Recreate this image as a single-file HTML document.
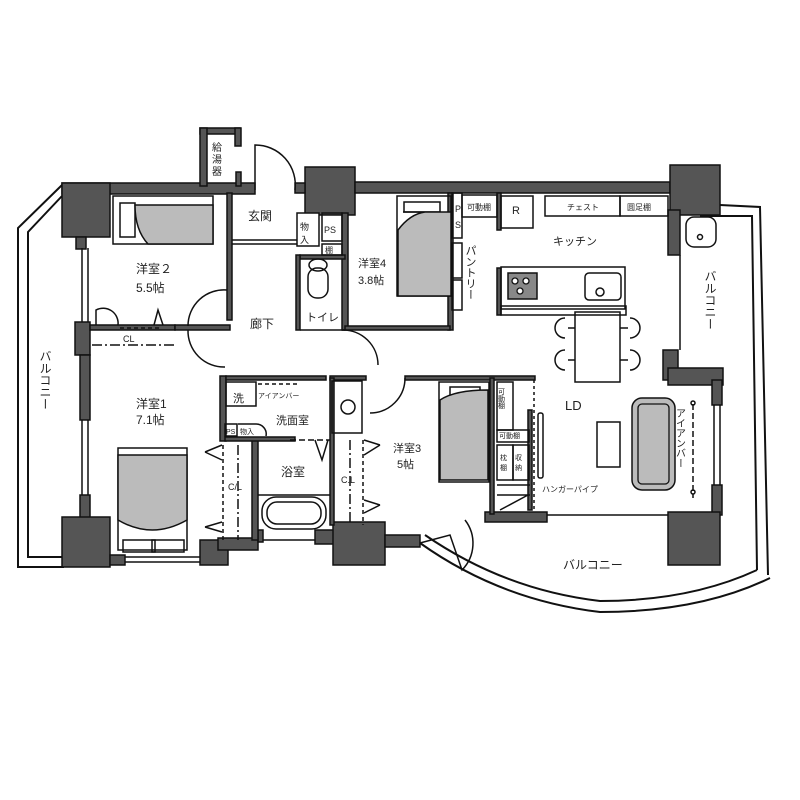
<!DOCTYPE html>
<html><head><meta charset="utf-8"><style>
html,body{margin:0;padding:0;background:#fff;width:800px;height:800px;overflow:hidden}
svg{display:block}
text{font-family:"Liberation Sans","Noto Sans CJK JP",sans-serif;fill:#222}
</style></head><body>
<svg width="800" height="800" viewBox="0 0 800 800" xmlns="http://www.w3.org/2000/svg">
<g fill="none" stroke="#111" stroke-width="2">
<!-- left balcony -->
<path d="M62,185 L18,228 L18,567 L64,567"/>
<path d="M62,196 L28,232 L28,557 L64,557"/>
<!-- right balcony -->
<path d="M720,205 L760,207 L768,575"/>
<path d="M700,216 L752,216 L757,570"/>
<!-- curved bottom balcony -->
<path d="M420,543 Q500,600 600,612 Q700,612 770,578"/>
<path d="M425,535 Q505,590 600,601 Q690,601 757,570"/>
</g>
<!-- walls -->
<g fill="#555" stroke="#111" stroke-width="1.5">
<rect x="62" y="183" width="193" height="11"/>
<rect x="62" y="183" width="48" height="54"/>
<rect x="76" y="237" width="10" height="12"/>
<rect x="200" y="128" width="40" height="6"/>
<rect x="200" y="128" width="7" height="58"/>
<rect x="235" y="128" width="6" height="18"/>
<rect x="236" y="172" width="5" height="14"/>
<rect x="305" y="167" width="50" height="48"/>
<rect x="295" y="183" width="10" height="10"/>
<rect x="355" y="182" width="315" height="11"/>
<rect x="670" y="165" width="50" height="50"/>
<rect x="668" y="210" width="12" height="45"/>
<rect x="75" y="322" width="15" height="33"/>
<rect x="80" y="355" width="10" height="65"/>
<rect x="80" y="495" width="10" height="24"/>
<rect x="62" y="517" width="48" height="50"/>
<rect x="110" y="555" width="15" height="10"/>
<rect x="200" y="540" width="28" height="25"/>
<rect x="218" y="538" width="40" height="12"/>
<rect x="258" y="530" width="5" height="12"/>
<rect x="315" y="530" width="20" height="14"/>
<rect x="333" y="522" width="52" height="43"/>
<rect x="385" y="535" width="35" height="12"/>
<rect x="485" y="512" width="62" height="10"/>
<rect x="663" y="350" width="15" height="30"/>
<rect x="668" y="368" width="55" height="17"/>
<rect x="712" y="380" width="10" height="25"/>
<rect x="712" y="485" width="10" height="30"/>
<rect x="668" y="512" width="52" height="53"/>
<!-- interior thick-ish walls -->
<rect x="227" y="193" width="5" height="127"/>
<rect x="90" y="325" width="85" height="5"/>
<rect x="175" y="325" width="55" height="5"/>
<rect x="342" y="213" width="6" height="117"/>
<rect x="448" y="193" width="5" height="137"/>
<rect x="345" y="326" width="105" height="4"/>
<rect x="220" y="376" width="6" height="65"/>
<rect x="226" y="376" width="100" height="4"/>
<rect x="330" y="376" width="36" height="4"/>
<rect x="330" y="378" width="4" height="147"/>
<rect x="252" y="438" width="6" height="102"/>
<rect x="225" y="437" width="70" height="4"/>
<rect x="405" y="376" width="130" height="4"/>
<rect x="490" y="378" width="4" height="136"/>
<rect x="497" y="193" width="4" height="37"/>
<rect x="497" y="268" width="4" height="47"/>
<rect x="300" y="255" width="45" height="4"/>
<rect x="296" y="255" width="4" height="75"/>
<rect x="528" y="410" width="4" height="100"/>
</g>
<g fill="none" stroke="#111" stroke-width="1.5">
<!-- windows -->
<path d="M82,248 V322 M88,248 V322"/>
<path d="M82,420 V495 M88,420 V495"/>
<path d="M125,557 H200 M125,562 H200"/>
<path d="M263,540 H315"/>
<path d="M547,515 H668"/>
<path d="M680,255 V350"/>
<path d="M714,405 V485 M720,405 V485"/>
<!-- genkan -->
<path d="M232,240 H297 M232,244 H297"/>
<path d="M255,190 V145 A40,40 0 0,1 295,190"/>
<!-- boxes -->
<rect x="297" y="213" width="22" height="33" fill="#fff"/>
<rect x="322" y="213" width="20" height="28"/>
<rect x="322" y="244" width="20" height="11"/>
<ellipse cx="318" cy="265" rx="9" ry="6"/>
<rect x="308" y="268" width="20" height="30" rx="9"/>
<!-- hall doors -->
<path d="M227,290 A36,36 0 0,0 188,326"/>
<path d="M188,330 A36,36 0 0,0 225,367"/>
<path d="M300,330 H345"/>
<path d="M342,330 A35,35 0 0,1 378,365"/>
<path d="M405,378 A35,35 0 0,1 370,413"/>
<!-- 洋室2 bed -->
<rect x="113" y="196" width="100" height="48"/>
<rect x="120" y="203" width="15" height="34"/>
<!-- closet CL 洋室2 -->
<path d="M92,345 H175" stroke-dasharray="10,3,2,3"/>
<path d="M120,328 H160" stroke-dasharray="4,3"/>
<path d="M96,325 V310 A15,15 0 0,1 118,325"/>
<path d="M154,325 L158,310 L163,325"/>
<!-- 洋室4 bed -->
<rect x="397" y="196" width="54" height="100"/>
<rect x="404" y="202" width="36" height="10"/>
<rect x="452" y="193" width="10" height="45"/>
<rect x="452" y="243" width="10" height="35"/>
<rect x="452" y="280" width="10" height="30"/>
<!-- kitchen -->
<rect x="462" y="195" width="35" height="22"/>
<rect x="501" y="196" width="32" height="32"/>
<rect x="545" y="196" width="75" height="20"/>
<rect x="620" y="196" width="48" height="20"/>
<rect x="501" y="267" width="124" height="42"/>
<rect x="501" y="306" width="125" height="9"/>
<rect x="585" y="273" width="36" height="27" rx="4"/>
<circle cx="600" cy="292" r="4"/>
<rect x="575" y="312" width="45" height="70"/>
<path d="M565,318 a8,8 0 0,0 0,20 M565,350 a8,8 0 0,0 0,20 M630,318 a8,8 0 0,1 0,20 M630,350 a8,8 0 0,1 0,20"/>
<path d="M568,328 H575 M568,360 H575 M620,328 H628 M620,360 H628"/>
<rect x="686" y="217" width="30" height="30" rx="8"/>
<circle cx="700" cy="237" r="2.5"/>
<!-- wash -->
<rect x="226" y="382" width="30" height="24"/>
<rect x="225" y="424" width="12" height="12"/>
<path d="M238,424 H256 A10,10 0 0,1 266,436"/>
<path d="M258,384 H300" stroke-dasharray="4,3"/>
<rect x="332" y="381" width="30" height="52"/>
<circle cx="348" cy="407" r="7"/>
<path d="M290,440 H330" stroke-dasharray="6,3"/>
<path d="M315,440 L322,460 L328,440"/>
<!-- bath -->
<path d="M258,495 H330"/>
<rect x="262" y="497" width="64" height="32" rx="14"/>
<rect x="267" y="502" width="54" height="22" rx="10"/>
<!-- CL columns -->
<path d="M223,445 V540" stroke-dasharray="4,3"/>
<path d="M238,445 V540" stroke-dasharray="10,3,2,3"/>
<path d="M350,440 V525" stroke-dasharray="10,3,2,3"/>
<path d="M363,440 V525" stroke-dasharray="4,3"/>
<path d="M205,452 L222,445 M205,452 L222,460 M205,527 L222,522 M205,527 L222,532"/>
<path d="M380,445 L364,440 M380,445 L364,455 M380,505 L364,500 M380,505 L364,513"/>
<!-- 洋室1 bed -->
<rect x="118" y="448" width="69" height="102"/>
<rect x="123" y="540" width="32" height="12"/>
<rect x="152" y="540" width="32" height="12"/>
<!-- 洋室3 bed & closets -->
<rect x="439" y="382" width="50" height="100"/>
<rect x="450" y="387" width="30" height="10"/>
<rect x="497" y="382" width="16" height="48"/>
<rect x="497" y="430" width="32" height="12"/>
<rect x="497" y="445" width="16" height="35"/>
<rect x="513" y="445" width="16" height="35"/>
<path d="M497,485 H530 M497,495 H530 M500,510 L528,495"/>
<path d="M534,380 V510" stroke-dasharray="3,3"/>
<rect x="538" y="413" width="5" height="65" rx="2"/>
<!-- door to balcony -->
<path d="M420,543 L450,535 L462,570 A38,38 0 0,0 465,520"/>
<!-- LD -->
<rect x="597" y="422" width="23" height="45"/>
<path d="M693,404 V498" stroke-dasharray="6,3"/>
<circle cx="693" cy="403" r="2"/><circle cx="693" cy="492" r="2"/>
</g>
<g fill="#bbb" stroke="#111" stroke-width="1.5">
<path d="M135,205 H213 V244 H148 Q135,230 135,205 Z"/>
<path d="M403,212 H451 V296 H398 V230 Q410,214 425,212 Z"/>
<path d="M118,455 H187 V520 Q152,540 118,520 Z"/>
<path d="M440,400 Q455,390 488,390 V480 H440 Z"/>
<rect x="632" y="398" width="43" height="92" rx="10"/>
<rect x="508" y="273" width="29" height="26" fill="#888"/>
</g>
<g fill="#fff" stroke="#111" stroke-width="1.3">
<circle cx="515" cy="281" r="3"/><circle cx="526" cy="281" r="3"/><circle cx="520" cy="291" r="3"/>
<rect x="638" y="404" width="31" height="80" rx="4" fill="#bbb"/>
</g>
<g font-size="11">
<text x="212" y="151" font-size="10">給</text><text x="212" y="163" font-size="10">湯</text><text x="212" y="175" font-size="10">器</text>
<text x="248" y="220" font-size="12">玄関</text>
<text x="300" y="230" font-size="9">物</text><text x="300" y="243" font-size="9">入</text>
<text x="324" y="233" font-size="9">PS</text><text x="325" y="253" font-size="8">棚</text>
<text x="136" y="273" font-size="12">洋室２</text><text x="136" y="292" font-size="12">5.5帖</text>
<text x="123" y="342" font-size="9">CL</text>
<text x="250" y="328" font-size="12">廊下</text>
<text x="306" y="321" font-size="11">トイレ</text>
<text x="358" y="267" font-size="11">洋室4</text><text x="358" y="284" font-size="11">3.8帖</text>
<text x="455" y="212" font-size="9">P</text><text x="455" y="228" font-size="9">S</text>
<text x="467" y="210" font-size="8">可動棚</text>
<text x="512" y="214" font-size="11">R</text>
<text x="567" y="210" font-size="8">チェスト</text>
<text x="627" y="210" font-size="8">圆足棚</text>
<text x="553" y="245" font-size="11">キッチン</text>
<text x="470" y="245" font-size="11" writing-mode="tb">パントリー</text>
<text x="710" y="270" font-size="12" writing-mode="tb">バルコニー</text>
<text x="45" y="350" font-size="12" writing-mode="tb">バルコニー</text>
<text x="136" y="408" font-size="12">洋室1</text><text x="136" y="424" font-size="12">7.1帖</text>
<text x="233" y="402" font-size="11">洗</text>
<text x="258" y="398" font-size="7">アイアンバー</text>
<text x="276" y="424" font-size="11">洗面室</text>
<text x="226" y="434" font-size="7">PS</text><text x="240" y="434" font-size="7">物入</text>
<text x="281" y="476" font-size="12">浴室</text>
<text x="228" y="490" font-size="9">C/L</text>
<text x="341" y="483" font-size="9">C.L</text>
<text x="393" y="452" font-size="11">洋室3</text><text x="397" y="468" font-size="11">5帖</text>
<text x="565" y="410" font-size="13">LD</text>
<text x="501" y="388" font-size="7" writing-mode="tb">可動棚</text>
<text x="499" y="438" font-size="7">可動棚</text>
<text x="500" y="460" font-size="7">枕</text><text x="500" y="470" font-size="7">棚</text>
<text x="515" y="460" font-size="7">収</text><text x="515" y="470" font-size="7">納</text>
<text x="542" y="492" font-size="8">ハンガーパイプ</text>
<text x="679" y="408" font-size="10" writing-mode="tb">アイアンバー</text>
<text x="563" y="569" font-size="12">バルコニー</text>
</g>
</svg>
</body></html>
